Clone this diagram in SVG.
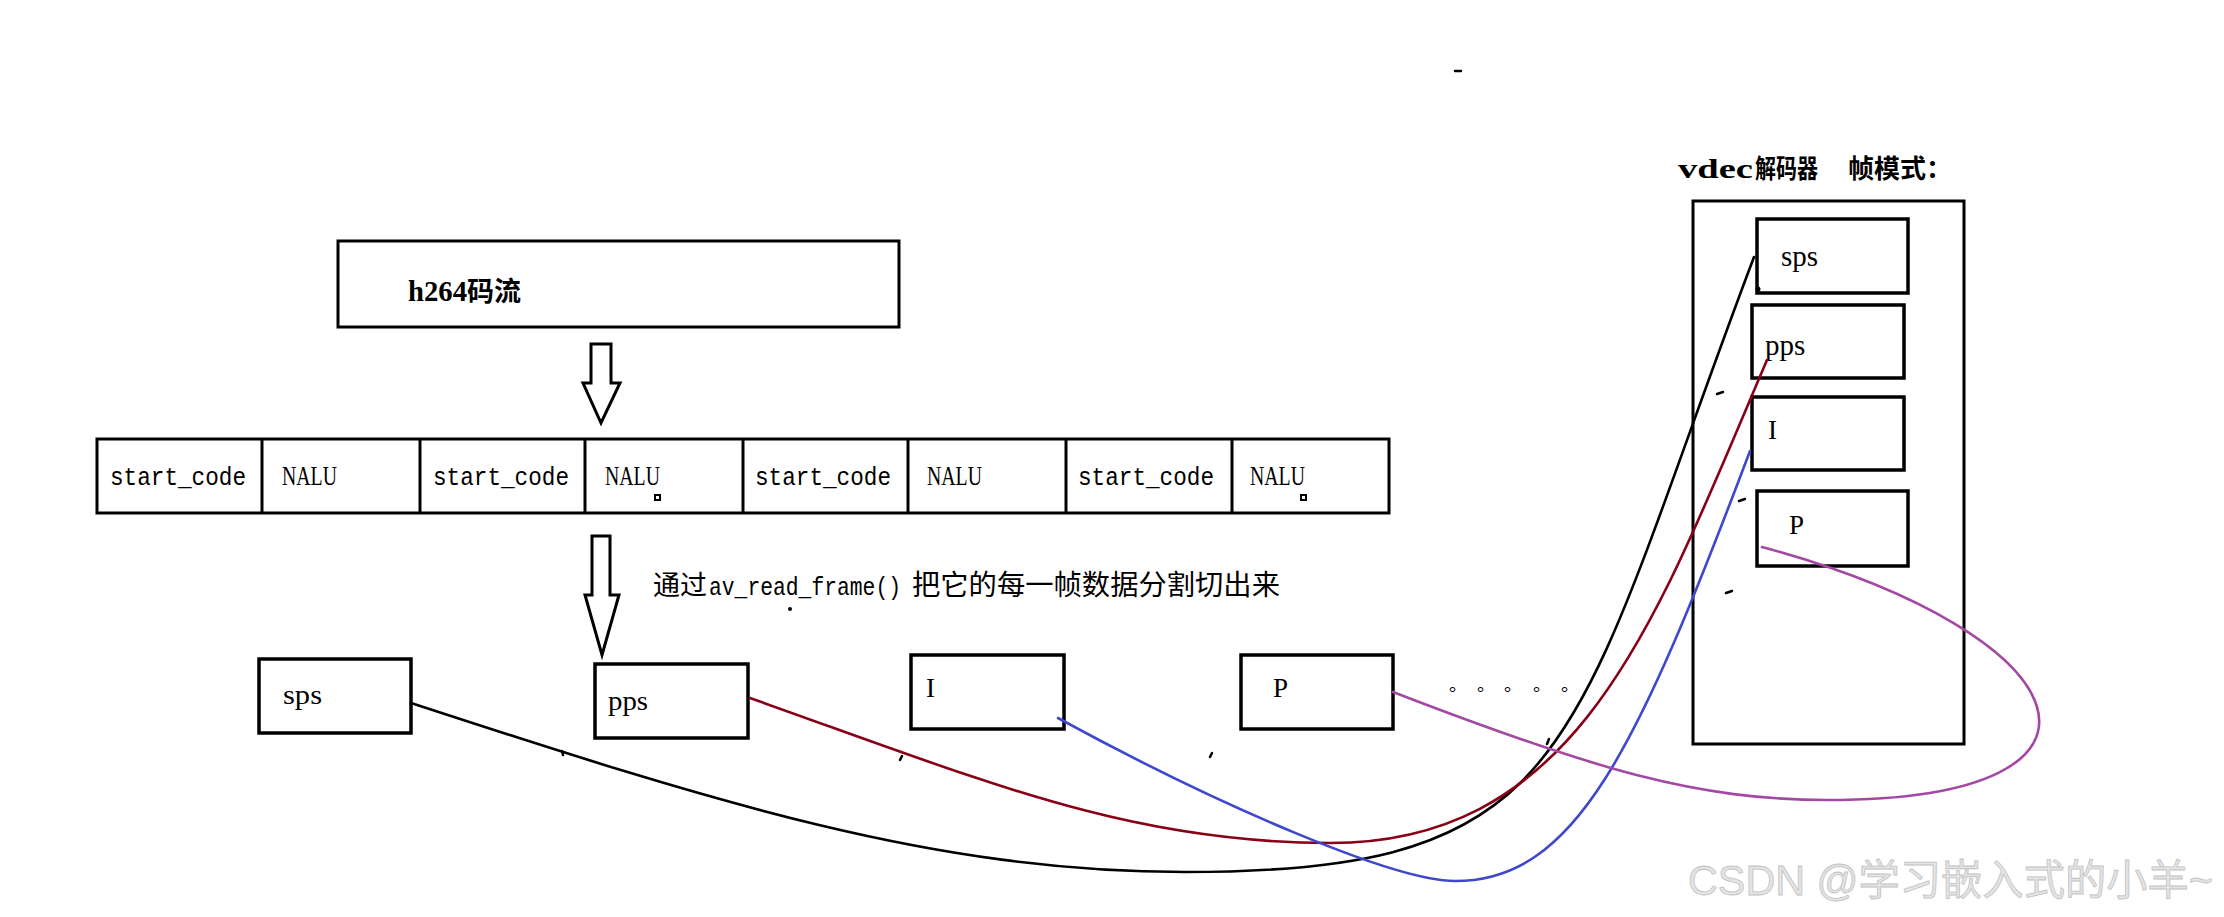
<svg xmlns="http://www.w3.org/2000/svg" width="2224" height="917" viewBox="0 0 2224 917">
<style>
.box{fill:#fff;stroke:#000;stroke-width:3}
.bbox{fill:#fff;stroke:#000;stroke-width:3.5}
.arrow{fill:#fff;stroke:#000;stroke-width:3;stroke-linejoin:miter}
.serif{font-family:"Liberation Serif","Noto Sans CJK SC",serif;fill:#000}
.mono{font-family:"Liberation Mono","Noto Sans CJK SC",monospace;fill:#000}
.cjk{font-family:"Noto Sans CJK SC",sans-serif;fill:#000}
.curve{fill:none;stroke-width:2.6;stroke-linecap:round}
.mark{fill:none;stroke:#000;stroke-width:2.5;stroke-linecap:round}
</style>
<rect width="2224" height="917" fill="#fff"/>

<g id="h264">
  <rect class="box" x="338" y="241" width="561" height="86"/>
  <text y="301" font-weight="bold"><tspan class="serif" x="408" font-size="29" textLength="59" lengthAdjust="spacingAndGlyphs">h264</tspan><tspan class="cjk" x="467" font-size="27">码流</tspan></text>
</g>

<g id="arrow1">
  <polygon class="arrow" points="591,344 611,344 611,383 620,383 601,423 583,383 591,383"/>
</g>

<g id="table">
  <rect class="box" x="97" y="439" width="1292" height="74"/>
  <g stroke="#000" stroke-width="3">
    <line x1="262" y1="439" x2="262" y2="513"/>
    <line x1="420" y1="439" x2="420" y2="513"/>
    <line x1="585" y1="439" x2="585" y2="513"/>
    <line x1="743" y1="439" x2="743" y2="513"/>
    <line x1="908" y1="439" x2="908" y2="513"/>
    <line x1="1066" y1="439" x2="1066" y2="513"/>
    <line x1="1232" y1="439" x2="1232" y2="513"/>
  </g>
  <text class="mono" x="110" y="485" font-size="26" textLength="136" lengthAdjust="spacingAndGlyphs">start_code</text>
  <text class="serif" x="282" y="485" font-size="28" textLength="55" lengthAdjust="spacingAndGlyphs">NALU</text>
  <text class="mono" x="433" y="485" font-size="26" textLength="136" lengthAdjust="spacingAndGlyphs">start_code</text>
  <text class="serif" x="605" y="485" font-size="28" textLength="55" lengthAdjust="spacingAndGlyphs">NALU</text>
  <text class="mono" x="755" y="485" font-size="26" textLength="136" lengthAdjust="spacingAndGlyphs">start_code</text>
  <text class="serif" x="927" y="485" font-size="28" textLength="55" lengthAdjust="spacingAndGlyphs">NALU</text>
  <text class="mono" x="1078" y="485" font-size="26" textLength="136" lengthAdjust="spacingAndGlyphs">start_code</text>
  <text class="serif" x="1250" y="485" font-size="28" textLength="55" lengthAdjust="spacingAndGlyphs">NALU</text>
  <rect x="655" y="495" width="5" height="5" fill="#fff" stroke="#000" stroke-width="2"/>
  <rect x="1301" y="495" width="5" height="5" fill="#fff" stroke="#000" stroke-width="2"/>
</g>

<g id="arrow2">
  <polygon class="arrow" points="592,536 610,536 610,595 619,595 602,655 585,595 592,595"/>
</g>

<g id="split-label">
  <text y="595"><tspan class="cjk" x="653" font-size="27" textLength="54" lengthAdjust="spacingAndGlyphs">通过</tspan><tspan class="mono" x="709" font-size="25" textLength="192" lengthAdjust="spacingAndGlyphs">av_read_frame()</tspan><tspan class="cjk" x="912" font-size="28" textLength="368" lengthAdjust="spacingAndGlyphs">把它的每一帧数据分割切出来</tspan></text>
</g>

<g id="frame-sps">
  <rect class="bbox" x="259" y="659" width="152" height="74"/>
  <text class="serif" x="283" y="704" font-size="27" textLength="39" lengthAdjust="spacingAndGlyphs">sps</text>
</g>
<g id="frame-pps">
  <rect class="bbox" x="595" y="664" width="153" height="74"/>
  <text class="serif" x="608" y="710" font-size="27" textLength="40" lengthAdjust="spacingAndGlyphs">pps</text>
</g>
<g id="frame-I">
  <rect class="bbox" x="911" y="655" width="153" height="74"/>
  <text class="serif" x="926" y="697" font-size="27">I</text>
</g>
<g id="frame-P">
  <rect class="bbox" x="1241" y="655" width="152" height="74"/>
  <text class="serif" x="1273" y="697" font-size="27">P</text>
</g>
<g id="ellipsis">
  <text class="cjk" y="691" font-size="18" x="1449 1477 1504 1533 1561">。。。。。</text>
</g>

<g id="vdec">
  <text y="178" font-weight="bold"><tspan class="serif" x="1678" font-size="27" textLength="75" lengthAdjust="spacingAndGlyphs">vdec</tspan><tspan class="cjk" x="1755" font-size="26" textLength="63" lengthAdjust="spacingAndGlyphs">解码器</tspan><tspan class="cjk" x="1848" font-size="26" textLength="104" lengthAdjust="spacingAndGlyphs">帧模式：</tspan></text>
  <rect class="box" x="1693" y="201" width="271" height="543" fill="none"/>
</g>
<g id="vdec-sps">
  <rect class="bbox" x="1757" y="219" width="151" height="74"/>
  <text class="serif" x="1781" y="266" font-size="29">sps</text>
</g>
<g id="vdec-pps">
  <rect class="bbox" x="1752" y="305" width="152" height="73"/>
  <text class="serif" x="1765" y="355" font-size="29">pps</text>
</g>
<g id="vdec-I">
  <rect class="bbox" x="1752" y="397" width="152" height="73"/>
  <text class="serif" x="1768" y="439" font-size="27">I</text>
</g>
<g id="vdec-P">
  <rect class="bbox" x="1757" y="491" width="151" height="75"/>
  <text class="serif" x="1789" y="534" font-size="27">P</text>
</g>

<g id="connectors">
  <path class="curve" stroke="#000000" d="M411,703 C717,803 935,872 1185,872 C1585,872 1568,749 1754,257"/>
  <path class="curve" stroke="#880015" d="M750,698 C987,782 1130,843 1330,843 C1580,843 1655,622 1767,360"/>
  <path class="curve" stroke="#3F48CC" d="M1058,718 C1221,807 1395,881 1455,881 C1575,881 1636,753 1750,451"/>
  <path class="curve" stroke="#A349A4" d="M1393,692 C1595,770 1698,800 1828,800 C2148,800 2087,635 1762,547"/>
</g>

<g id="marks">
  <path class="mark" d="M1455,71 L1461,71"/>
  <path class="mark" d="M1717,394 L1723,392"/>
  <path class="mark" d="M1739,501 L1745,499"/>
  <path class="mark" d="M1726,593 L1732,591"/>
  <circle cx="790" cy="609" r="2" fill="#000"/>
  <path class="mark" d="M562,751 L563,755"/>
  <path class="mark" d="M900,760 L902,756"/>
  <path class="mark" d="M1210,757 L1212,753"/>
  <path class="mark" d="M1547,744 L1549,739"/>
  <circle cx="1758" cy="289" r="2.5" fill="#000"/>
</g>

<g id="watermark">
  <text x="1688" y="895" font-family="Liberation Sans,Noto Sans CJK SC,sans-serif" font-size="42" fill="#e4e4e4" stroke="#c2c2c2" stroke-width="0.8" textLength="525" lengthAdjust="spacingAndGlyphs">CSDN @学习嵌入式的小羊~</text>
</g>
</svg>
